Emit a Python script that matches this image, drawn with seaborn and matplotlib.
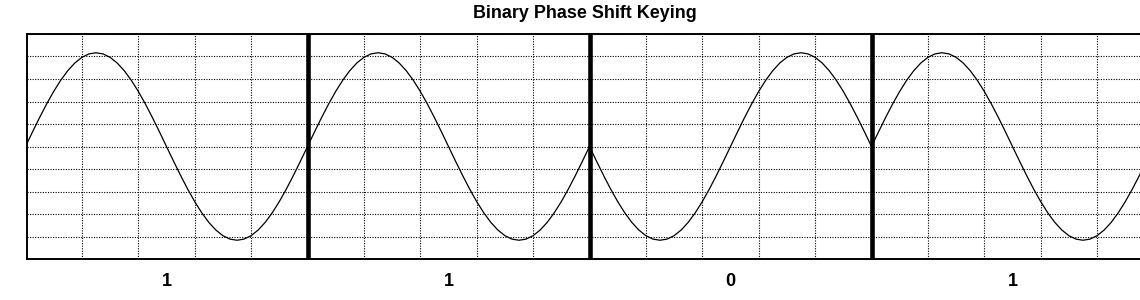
import numpy as np
import pandas as pd
import matplotlib
matplotlib.use("Agg")
import matplotlib.pyplot as plt
import seaborn as sns

bits = [1, 1, 0, 1]
bit_labels = ["1", "1", "0", "1"]
title = "Binary Phase Shift Keying"

sns.set_style("white")
plt.rcParams['font.family'] = ['Liberation Sans', 'DejaVu Sans']
plt.rcParams['text.color'] = 'black'

# build the BPSK waveform from the bit sequence (one carrier cycle per bit)
n_per_bit = 40
rows = []
for i, b in enumerate(bits):
    phase = 0.0 if b == 1 else np.pi
    t = np.linspace(0, 1, n_per_bit + 1)
    for tt in t:
        rows.append({"t": i + tt, "v": np.sin(2 * np.pi * tt + phase), "bit": i})
df = pd.DataFrame(rows)

W, H = 1140, 300
fig = plt.figure(figsize=(W / 100, H / 100), dpi=100)
ax = fig.add_axes([27 / W, (H - 259) / H, (1155 - 27) / W, 225 / H])

for i in range(len(bits)):
    sns.lineplot(data=df[df["bit"] == i], x="t", y="v", ax=ax, color="black",
                 lw=0.9, estimator=None, sort=False)

ax.set_xlim(1.5 / 282, 4 + 1.5 / 282)
ax.set_ylim(-1.2, 1.2)
ax.set_xticks(np.arange(0.2, len(bits) + 0.001, 0.2))
ax.set_yticks(np.linspace(-1.2, 1.2, 11))
ax.grid(True, color="black", ls=(0, (1, 1.3)), lw=0.8)
ax.tick_params(length=0, labelbottom=False, labelleft=False)
ax.set_xlabel("")
ax.set_ylabel("")
for s in ax.spines.values():
    s.set_color("black")
    s.set_linewidth(1.4)

for i in range(1, len(bits)):
    ax.axvline(i, color="black", lw=3.3, zorder=3)

for i, lab in enumerate(bit_labels):
    ax.annotate(lab, xy=(i + 0.5, 0), xycoords=("data", "axes fraction"),
                xytext=(0, -16.5), textcoords="offset points", ha="center",
                va="center", fontsize=13, fontweight="bold", color="black")

fig.text(584.5 / W, 1 - 14 / H, title, ha="center", va="center",
         fontsize=12.9, fontweight="bold", color="black")

fig.savefig("out.png", dpi=100)
